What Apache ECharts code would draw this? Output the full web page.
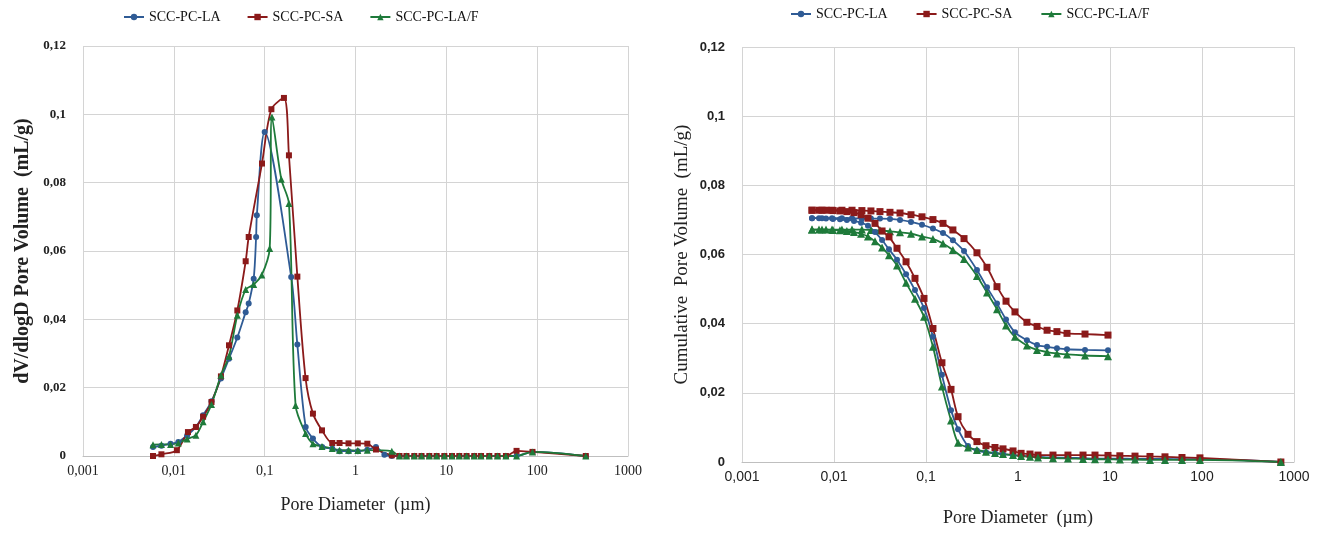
<!DOCTYPE html>
<html>
<head>
  <meta charset="UTF-8">
  <title>Pore size distribution</title>
  <style>
    html, body { margin: 0; padding: 0; background: #fff; }
    #chart { width: 1324px; height: 533px; }
  </style>
</head>
<body>
  <div id="chart"></div>
  <script src="https://cdn.jsdelivr.net/npm/echarts@6/dist/echarts.min.js"></script>
  <script>
    const names = ['SCC-PC-LA', 'SCC-PC-SA', 'SCC-PC-LA/F'];
    const colors = ['#2f5b95', '#8b1a1a', '#1e7a3a'];
    const symbols = ['circle', 'rect', 'triangle'];

    // left chart: dV/dlogD (mL/g) vs pore diameter (µm)
    const tailDiam = [3.05, 3.64, 4.44, 5.33, 6.5, 7.82, 9.51, 11.55, 13.9, 16.7, 20.3, 24.1, 29.7, 36.6, 45.3, 59.3, 88.8, 343];
    const tailLA = [0, 0, 0, 0, 0, 0, 0, 0, 0, 0, 0, 0, 0, 0, 0, 0, 0.0012, 0];
    const tailSA = [0, 0, 0, 0, 0, 0, 0, 0, 0, 0, 0, 0, 0, 0, 0, 0.0015, 0.0012, 0];
    const tailLAF = [0, 0, 0, 0, 0, 0, 0, 0, 0, 0, 0, 0, 0, 0, 0, 0, 0.0012, 0];

    const diamLA = [0.0059, 0.0073, 0.0092, 0.0112, 0.014, 0.0175, 0.021, 0.026, 0.033, 0.0405, 0.05, 0.0618, 0.0667, 0.0757, 0.0805, 0.082, 0.1, 0.196, 0.229, 0.283, 0.34, 0.43, 0.555, 0.667, 0.84, 1.06, 1.35, 1.68, 2.08, 2.51];
    const psdLA = [0.0026, 0.003, 0.0036, 0.0041, 0.006, 0.0085, 0.0119, 0.016, 0.0227, 0.0285, 0.0347, 0.0421, 0.0446, 0.0519, 0.0641, 0.0705, 0.0948, 0.0524, 0.0326, 0.0085, 0.0051, 0.0026, 0.0022, 0.0014, 0.0014, 0.0014, 0.0018, 0.0026, 0.0004, 0];

    const diamSA = [0.0059, 0.0073, 0.0108, 0.0143, 0.0175, 0.021, 0.026, 0.033, 0.0405, 0.05, 0.0618, 0.0667, 0.0934, 0.1186, 0.163, 0.185, 0.229, 0.282, 0.34, 0.428, 0.555, 0.667, 0.838, 1.06, 1.35, 1.68, 2.51];
    const psdSA = [0, 0.0005, 0.0017, 0.007, 0.0085, 0.0115, 0.0158, 0.0233, 0.0324, 0.0426, 0.057, 0.0641, 0.0856, 0.1015, 0.1048, 0.088, 0.0525, 0.0228, 0.0124, 0.0075, 0.0038, 0.0038, 0.0037, 0.0037, 0.0036, 0.0019, 0.0002];

    const diamLAF = [0.0059, 0.0073, 0.0092, 0.0112, 0.014, 0.0175, 0.021, 0.026, 0.033, 0.0405, 0.05, 0.0618, 0.0757, 0.093, 0.1135, 0.1203, 0.1526, 0.185, 0.219, 0.282, 0.34, 0.428, 0.555, 0.667, 0.838, 1.06, 1.35, 2.51];
    const psdLAF = [0.0033, 0.0034, 0.0034, 0.0038, 0.005, 0.0061, 0.01, 0.0151, 0.0236, 0.0292, 0.0412, 0.0487, 0.0502, 0.053, 0.0607, 0.0992, 0.081, 0.0739, 0.0148, 0.0066, 0.0036, 0.0028, 0.0022, 0.0017, 0.0017, 0.0016, 0.0017, 0.0014];

    // right chart: cumulative pore volume (mL/g)
    const cumDiamLow = [0.00577, 0.00687, 0.00819, 0.00976, 0.0116, 0.0138, 0.0165, 0.0197, 0.0234, 0.0279, 0.0333, 0.0396, 0.0484, 0.0607, 0.0759, 0.0951, 0.119, 0.149, 0.187, 0.223, 0.286, 0.358, 0.449, 0.562, 0.687, 0.883, 1.08, 1.35, 1.65, 2.4, 3.49, 5.09, 6.87, 9.51, 12.8, 18.7, 27.2, 39.6, 60.6, 95, 720];
    const cumLowLA = [0.0705, 0.0705, 0.0704, 0.0703, 0.0702, 0.07, 0.0697, 0.0692, 0.0683, 0.0665, 0.0642, 0.0615, 0.0585, 0.0543, 0.0497, 0.0445, 0.0362, 0.0252, 0.015, 0.0095, 0.0046, 0.0033, 0.0028, 0.0025, 0.0023, 0.002, 0.0018, 0.0016, 0.0015, 0.0013, 0.0012, 0.0011, 0.001, 0.001, 0.001, 0.0009, 0.0009, 0.0009, 0.0008, 0.0008, 0];
    const cumLowSA = [0.0728, 0.0728, 0.0728, 0.0727, 0.0726, 0.0724, 0.0721, 0.0715, 0.0705, 0.069, 0.0668, 0.0651, 0.0618, 0.0579, 0.0531, 0.0473, 0.0386, 0.0287, 0.021, 0.0131, 0.008, 0.0059, 0.0047, 0.0042, 0.0038, 0.0032, 0.0025, 0.0023, 0.002, 0.002, 0.002, 0.002, 0.002, 0.0019, 0.0018, 0.0017, 0.0016, 0.0015, 0.0013, 0.0012, 0];
    const cumLowLAF = [0.0672, 0.0672, 0.0672, 0.0671, 0.067, 0.0668, 0.0665, 0.066, 0.0652, 0.0638, 0.062, 0.0598, 0.0568, 0.0518, 0.0472, 0.042, 0.0333, 0.0218, 0.012, 0.0056, 0.0042, 0.0035, 0.003, 0.0026, 0.0023, 0.002, 0.0017, 0.0015, 0.0013, 0.0011, 0.001, 0.0009, 0.0008, 0.0008, 0.0007, 0.0007, 0.0006, 0.0006, 0.0006, 0.0006, 0];

    const cumDiamUp = [0.00577, 0.00741, 0.00951, 0.0122, 0.0157, 0.0201, 0.0252, 0.0316, 0.0406, 0.0522, 0.0687, 0.0905, 0.119, 0.153, 0.196, 0.259, 0.358, 0.46, 0.591, 0.741, 0.927, 1.25, 1.61, 2.07, 2.65, 3.41, 5.35, 9.51];
    const cumUpLA = [0.0705, 0.0705, 0.0705, 0.0705, 0.0705, 0.0704, 0.0704, 0.0704, 0.0703, 0.07, 0.0694, 0.0686, 0.0675, 0.0662, 0.0641, 0.061, 0.0555, 0.0505, 0.0458, 0.0412, 0.0375, 0.0352, 0.0338, 0.0333, 0.0329, 0.0326, 0.0324, 0.0323];
    const cumUpSA = [0.0728, 0.0728, 0.0728, 0.0728, 0.0728, 0.0727, 0.0726, 0.0724, 0.0722, 0.072, 0.0715, 0.0709, 0.0701, 0.069, 0.0671, 0.0646, 0.0605, 0.0563, 0.0507, 0.0465, 0.0434, 0.0404, 0.0392, 0.0381, 0.0377, 0.0372, 0.037, 0.0367];
    const cumUpLAF = [0.0672, 0.0672, 0.0672, 0.0672, 0.0672, 0.0672, 0.0671, 0.067, 0.0667, 0.0664, 0.066, 0.0652, 0.0645, 0.0632, 0.0613, 0.0587, 0.0538, 0.049, 0.0442, 0.0395, 0.0362, 0.0337, 0.0324, 0.0318, 0.0314, 0.0311, 0.0308, 0.0306];

    const pairs = (d, v) => d.map((x, i) => [x, v[i]]);

    const fmtX = v => String(v).replace('.', ',');
    const fmtY = v => String(parseFloat(v.toFixed(2))).replace('.', ',');

    const serif = 'Liberation Serif';
    const sans = 'Liberation Sans';

    function xAxis(gridIndex, gap, labelFont) {
      return {
        type: 'log', gridIndex, logBase: 10, min: 0.001, max: 1000,
        name: 'Pore Diameter  (µm)', nameLocation: 'middle', nameGap: gap,
        nameTextStyle: { fontFamily: serif, fontSize: 18, color: '#222' },
        axisLine: { lineStyle: { color: '#bfbfbf' } },
        axisTick: { show: false },
        minorTick: { show: false },
        axisLabel: { formatter: fmtX, fontFamily: labelFont, fontSize: 14, color: '#222', margin: 8 },
        splitLine: { show: true, lineStyle: { color: '#d4d4d4' } }
      };
    }
    function yAxis(gridIndex, title, gap, labelFont, titleSize, titleWeight) {
      return {
        type: 'value', gridIndex, min: 0, max: 0.12, interval: 0.02,
        name: title, nameLocation: 'middle', nameGap: gap,
        nameTextStyle: { fontFamily: serif, fontSize: titleSize, color: '#222', fontWeight: titleWeight },
        axisLine: { show: false },
        axisTick: { show: false },
        axisLabel: { formatter: fmtY, fontFamily: labelFont, fontSize: 13, color: '#222', fontWeight: 'bold', margin: 17 },
        splitLine: { show: true, lineStyle: { color: '#d4d4d4' } }
      };
    }

    function line(i, axis, data) {
      const size = axis === 0 ? [6, 6, 7] : [6, 7, 8];
      return {
        name: names[i], type: 'line', xAxisIndex: axis, yAxisIndex: axis,
        data, smooth: 0.3, symbol: symbols[i], symbolSize: size[i],
        lineStyle: { width: 1.8, color: colors[i] },
        itemStyle: { color: colors[i] },
        emphasis: { disabled: true }
      };
    }

    const legendStyle = { fontFamily: serif, fontSize: 14, color: '#111' };

    const chart = echarts.init(document.getElementById('chart'));
    chart.setOption({
      animation: false,
      backgroundColor: '#fff',
      legend: [
        { data: names, left: 118, top: 5, itemGap: 26, itemWidth: 20, itemHeight: 8, textStyle: legendStyle },
        { data: names, left: 785, top: 2, itemGap: 28, itemWidth: 20, itemHeight: 8, textStyle: legendStyle }
      ],
      grid: [
        { left: 83, top: 46, width: 545, height: 410 },
        { left: 742, top: 47, width: 552, height: 415 }
      ],
      xAxis: [xAxis(0, 40, serif), xAxis(1, 47, sans)],
      yAxis: [
        yAxis(0, 'dV/dlogD Pore Volume  (mL/g)', 50, serif, 20, 'bold'),
        yAxis(1, 'Cumulative  Pore Volume  (mL/g)', 50, sans, 19, 'normal')
      ],
      series: [
        line(0, 0, pairs(diamLA.concat(tailDiam), psdLA.concat(tailLA))),
        line(1, 0, pairs(diamSA.concat(tailDiam), psdSA.concat(tailSA))),
        line(2, 0, pairs(diamLAF.concat(tailDiam), psdLAF.concat(tailLAF))),
        line(0, 1, pairs(cumDiamUp, cumUpLA)),
        line(1, 1, pairs(cumDiamUp, cumUpSA)),
        line(2, 1, pairs(cumDiamUp, cumUpLAF)),
        line(0, 1, pairs(cumDiamLow, cumLowLA)),
        line(1, 1, pairs(cumDiamLow, cumLowSA)),
        line(2, 1, pairs(cumDiamLow, cumLowLAF))
      ]
    });
  </script>
</body>
</html>
